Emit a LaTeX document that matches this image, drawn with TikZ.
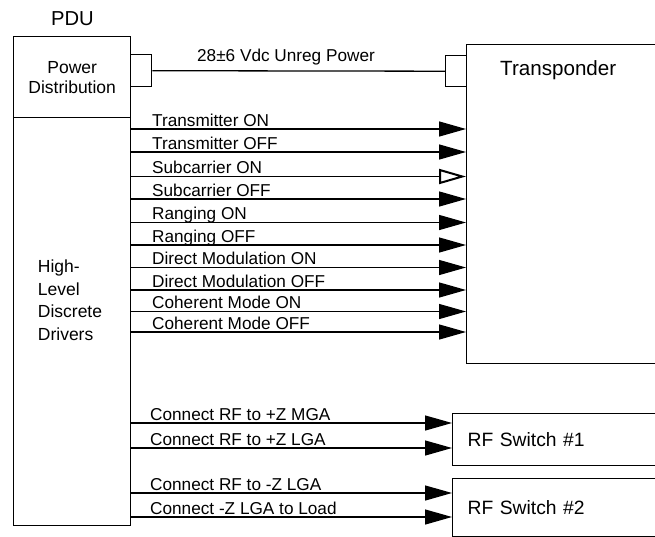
\documentclass[tikz,border=0pt]{standalone}
\usepackage{fontspec}
\setmainfont{Liberation Sans}
\usetikzlibrary{arrows.meta}
\tikzset{
  box/.style={draw, line width=1.4pt, inner sep=0pt, anchor=north west},
  sig/.style={line width=1.3pt, -{Triangle[length=27pt,width=15pt]}},
  sigopen/.style={line width=1.3pt, -{Triangle[open,length=27pt,width=15pt,line width=2pt]}},
  lbl/.style={anchor=base west, inner sep=0pt, font=\fontsize{17.2}{20}\selectfont},
}
\begin{document}
\begin{tikzpicture}[x=1pt,y=-1pt]
        \clip (0,0) rectangle (655,536);
        % PDU
        \node[font=\fontsize{20.2}{22}\selectfont] (pdu) at (72.5,19) {PDU};
        \node[box, minimum width=117pt, minimum height=81pt, align=center, font=\fontsize{17.5}{20}\selectfont] (pwr) at (13,36) {Power\\Distribution};
        \node[box, minimum width=117pt, minimum height=408pt] (drv) at (13,117) {};
        \node[align=left, inner sep=0pt, font=\fontsize{17.5}{22.5}\selectfont] (drvlbl) at (70,300) {High-\\Level\\Discrete\\Drivers};
        % connectors and loads
        \node[box, minimum width=21pt, minimum height=32pt] (pc1) at (130,54) {};
        \node[box, minimum width=21pt, minimum height=31pt] (pc2) at (445,55) {};
        \node[box, minimum width=250pt, minimum height=319pt] (xpdr) at (466,44) {};
        \node[anchor=base west, inner sep=0pt, font=\fontsize{20.6}{24}\selectfont] (xpdrlbl) at (500,75) {Transponder};
        \node[box, text width=220pt, inner xsep=15pt, minimum height=52pt, align=left, font=\fontsize{19.3}{22}\selectfont] (rf1) at (452,413) {RF Switch \#1};
        \node[box, text width=220pt, inner xsep=15pt, minimum height=58pt, align=left, font=\fontsize{19.3}{22}\selectfont] (rf2) at (452,478) {RF Switch \#2};
        % power
        \draw[line width=1.3pt] (pc1.east) -- (pc2.west);
        \node[lbl, anchor=base] (pwrlbl) at (286,61) {28±6 Vdc Unreg Power};
        % discretes
        \foreach \y/\txt/\tip [count=\i] in {129/Transmitter ON/sig, 152/Transmitter OFF/sig, 176.5/Subcarrier ON/sigopen, 199/Subcarrier OFF/sig, 222.5/Ranging ON/sig, 245/Ranging OFF/sig, 267.5/Direct Modulation ON/sig, 290/Direct Modulation OFF/sig, 311.5/Coherent Mode ON/sig, 332/Coherent Mode OFF/sig}{
            \draw[\tip] (drv.east |- 0,\y) -- (xpdr.west |- 0,\y);
            \node[lbl] (cmd\i) at (152,\y-3) {\txt};
        }
        \foreach \y/\txt/\dst [count=\i] in {423/Connect RF to +Z MGA/rf1, 448/Connect RF to +Z LGA/rf1, 493/Connect RF to -Z LGA/rf2, 517/Connect -Z LGA to Load/rf2}{
            \draw[sig] (drv.east |- 0,\y) -- (\dst.west |- 0,\y);
            \node[lbl] (rfcmd\i) at (150,\y-3) {\txt};
        }
    \end{tikzpicture}
\end{document}
